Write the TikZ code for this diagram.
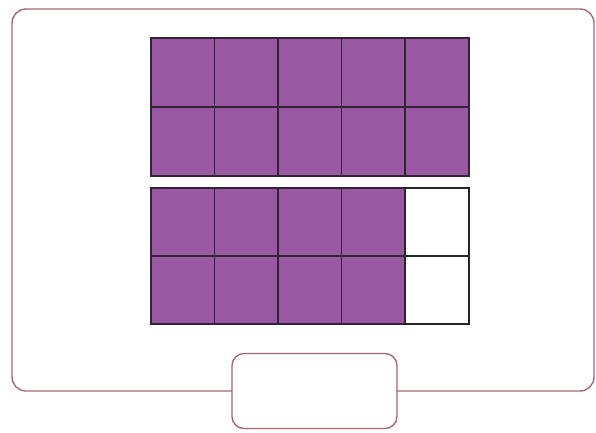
\documentclass[tikz,border=0pt]{standalone}
\begin{document}
\begin{tikzpicture}[x=1pt,y=-1pt,
  frame/.style={draw={rgb,255:red,165;green,105;blue,115},line width=1.4pt,rounded corners=14pt},
  cellp/.style={fill={rgb,255:red,152;green,88;blue,162},draw={rgb,255:red,50;green,35;blue,55},line width=1.6pt},
  cellw/.style={fill=white,draw={rgb,255:red,40;green,38;blue,42},line width=1.6pt}]
\useasboundingbox (0,0) rectangle (596,432);
\fill[white] (0,0) rectangle (596,432);
\draw[frame] (12,9) rectangle (594,391);
\node[frame,fill=white,minimum width=165pt,minimum height=75pt,inner sep=0pt,rounded corners=12pt] (ans) at (314.5,391) {};
% top grid
\foreach \r in {0,1}{
  \foreach \c in {0,...,4}{
    \node[cellp,minimum width=63.6pt,minimum height=69pt,inner sep=0pt,anchor=north west] (t\r\c) at ({150+63.6*\c},{37+69*\r}) {};
  }
}
% bottom grid
\foreach \r in {0,1}{
  \foreach \c in {0,...,3}{
    \node[cellp,minimum width=63.6pt,minimum height=68pt,inner sep=0pt,anchor=north west] (b\r\c) at ({150+63.6*\c},{187+68*\r}) {};
  }
  \node[cellw,minimum width=63.6pt,minimum height=68pt,inner sep=0pt,anchor=north west] (b\r4) at ({150+63.6*4},{187+68*\r}) {};
}
\end{tikzpicture}
\end{document}
